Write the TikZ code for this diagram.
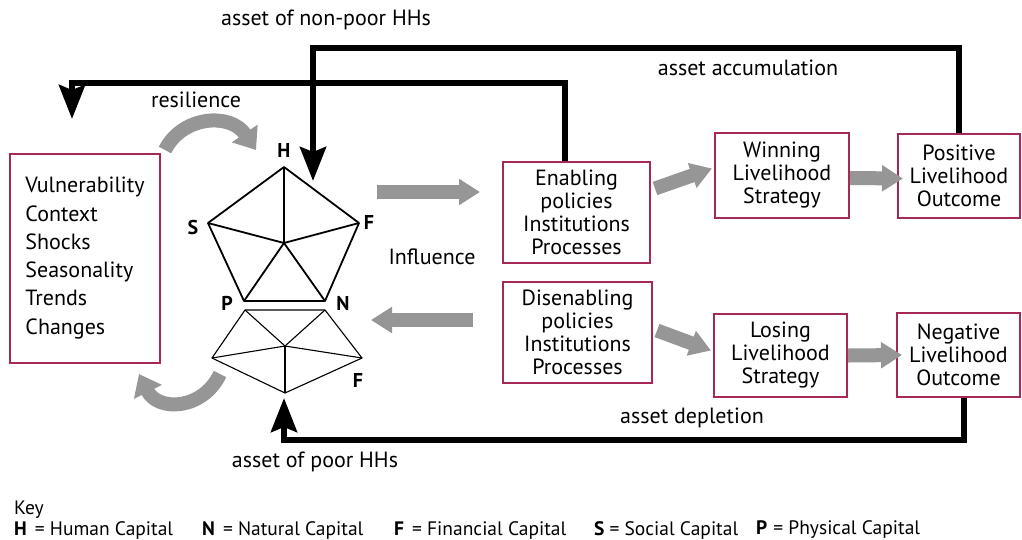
\documentclass[tikz,border=0pt]{standalone}
\usepackage{fontspec}
\setmainfont{PT Sans}
\usetikzlibrary{arrows.meta,calc}
\definecolor{boxred}{RGB}{165,40,88}
\definecolor{arrgrey}{RGB}{150,150,150}
\begin{document}
\begin{tikzpicture}[x=1pt,y=-1pt,
  box/.style={draw=boxred,line width=2pt,inner sep=0pt,align=center,
    font=\fontsize{22}{23}\selectfont},
  lbl/.style={inner sep=0pt,font=\fontsize{22}{23}\selectfont},
  vlabel/.style={inner sep=0pt,font=\bfseries\fontsize{20}{22}\selectfont},
  keyt/.style={inner sep=0pt,anchor=west,font=\fontsize{19.5}{20}\selectfont},
  garrow/.style={draw=arrgrey,line width=14pt,-{Triangle[length=21pt,width=25pt]}},
  carrow/.style={draw=arrgrey,line width=14pt,-{Triangle[length=20pt,width=30pt]}},
  barrow/.style={draw=black,line width=6pt,-{Stealth[length=34pt,width=26pt,inset=5pt]}},
  penta/.style={line width=1.8pt,line join=round},
  pentb/.style={line width=1.1pt,line join=round}]
\useasboundingbox (0,0) rectangle (1022,539);
\fill[white] (0,0) rectangle (1022,539);

% boxes
\node[box,minimum width=150pt,minimum height=209pt,align=left,
  font=\fontsize{22}{28.3}\selectfont] (vul) at (85,258)
  {Vulnerability\\Context\\Shocks\\Seasonality\\Trends\\Changes};
\node[box,minimum width=147pt,minimum height=101pt] (enab) at (576.5,212.5)
  {Enabling\\policies\\Institutions\\Processes};
\node[box,minimum width=149pt,minimum height=101pt] (disen) at (577.5,332.5)
  {Disenabling\\policies\\Institutions\\Processes};
\node[box,minimum width=134pt,minimum height=85pt] (win) at (782,175.5)
  {Winning\\Livelihood\\Strategy};
\node[box,minimum width=122pt,minimum height=84pt] (pos) at (959,176)
  {Positive\\Livelihood\\Outcome};
\node[box,minimum width=133pt,minimum height=83pt] (lose) at (780.5,355.5)
  {Losing\\Livelihood\\Strategy};
\node[box,minimum width=123pt,minimum height=84pt] (neg) at (958.5,355)
  {Negative\\Livelihood\\Outcome};

% upper pentagon
\coordinate (H) at (284,167);
\coordinate (S) at (208,223);
\coordinate (F) at (359,223);
\coordinate (P) at (244,301);
\coordinate (N) at (325,301);
\coordinate (C) at (284,243);
\draw[penta] (H) -- (F) -- (N) -- (P) -- (S) -- cycle;
\foreach \v in {H,S,F,P,N} \draw[penta] (C) -- (\v);
% lower pentagon
\coordinate (lP) at (245,310);
\coordinate (lN) at (325,310);
\coordinate (lL) at (212,358);
\coordinate (lR) at (362,358);
\coordinate (lB) at (285,393);
\coordinate (lC) at (285,346);
\draw[pentb] (lP) -- (lN) -- (lR) -- (lB) -- (lL) -- cycle;
\foreach \v in {lP,lN,lL,lR,lB} \draw[pentb] (lC) -- (\v);

\node[vlabel] (tH) at (284,150) {H};
\node[vlabel] (tS) at (193,227) {S};
\node[vlabel] (tF) at (369,222) {F};
\node[vlabel] (tP) at (227,303) {P};
\node[vlabel] (tN) at (343,303) {N};
\node[vlabel] (tF2) at (358,380) {F};

% grey straight arrows
\coordinate (g1s) at (377,192);
\coordinate (g1e) at (480,192);
\draw[garrow] (g1s) -- (g1e);
\coordinate (g2s) at (473,320);
\coordinate (g2e) at (371,320);
\draw[garrow] (g2s) -- (g2e);
\draw[garrow] ($(enab.east)+(4,-24)$) -- ($(win.west)+(-2,-7)$);
\draw[garrow] ($(disen.east)+(4,-2)$) -- ($(lose.west)+(-2,-5)$);
\draw[garrow] ($(win.east)+(0,2.5)$) -- ($(pos.west)+(6,2.5)$);
\draw[garrow] ($(lose.east)+(0,0)$) -- ($(neg.west)+(6,0)$);

% grey curved arrows
\coordinate (r1) at (165,150);
\coordinate (r2) at (256,150);
\draw[carrow] (r1) .. controls (182,116) and (230,112) .. (r2);
\coordinate (r3) at (220,374);
\coordinate (r4) at (139,374);
\draw[carrow] (r3) .. controls (203,410) and (158,412) .. (r4);

% black connectors
\coordinate (hIn) at (313,181);
\draw[barrow] (pos.north) |- (313,48) -- (hIn);
\coordinate (eX) at (565,0);
\coordinate (vIn) at (72,119);
\draw[barrow] (eX |- enab.north) |- (72,83) -- (vIn);
\coordinate (bIn) at (284,398);
\coordinate (nX) at (964,0);
\draw[barrow] (nX |- neg.south) |- (284,440) -- (bIn);

% labels
\node[lbl] (l1) at (326,20) {asset of non-poor HHs};
\node[lbl] (l2) at (196,100) {resilience};
\node[lbl] (l3) at (748,68) {asset accumulation};
\node[lbl] (l4) at (432,257) {Influence};
\node[lbl] (l5) at (692,418) {asset depletion};
\node[lbl] (l6) at (315,462) {asset of poor HHs};

% key
\node[keyt] (k0) at (14,510) {Key};
\node[keyt] (k1) at (14,530) {\textbf{H}\hspace{8pt}= Human Capital};
\node[keyt] (k2) at (202,530) {\textbf{N}\hspace{8pt}= Natural Capital};
\node[keyt] (k3) at (394,530) {\textbf{F}\hspace{8pt}= Financial Capital};
\node[keyt] (k4) at (594,530) {\textbf{S}\hspace{5pt}= Social Capital};
\node[keyt] (k5) at (756,530) {\textbf{P}\hspace{6pt}= Physical Capital};
\end{tikzpicture}
\end{document}
